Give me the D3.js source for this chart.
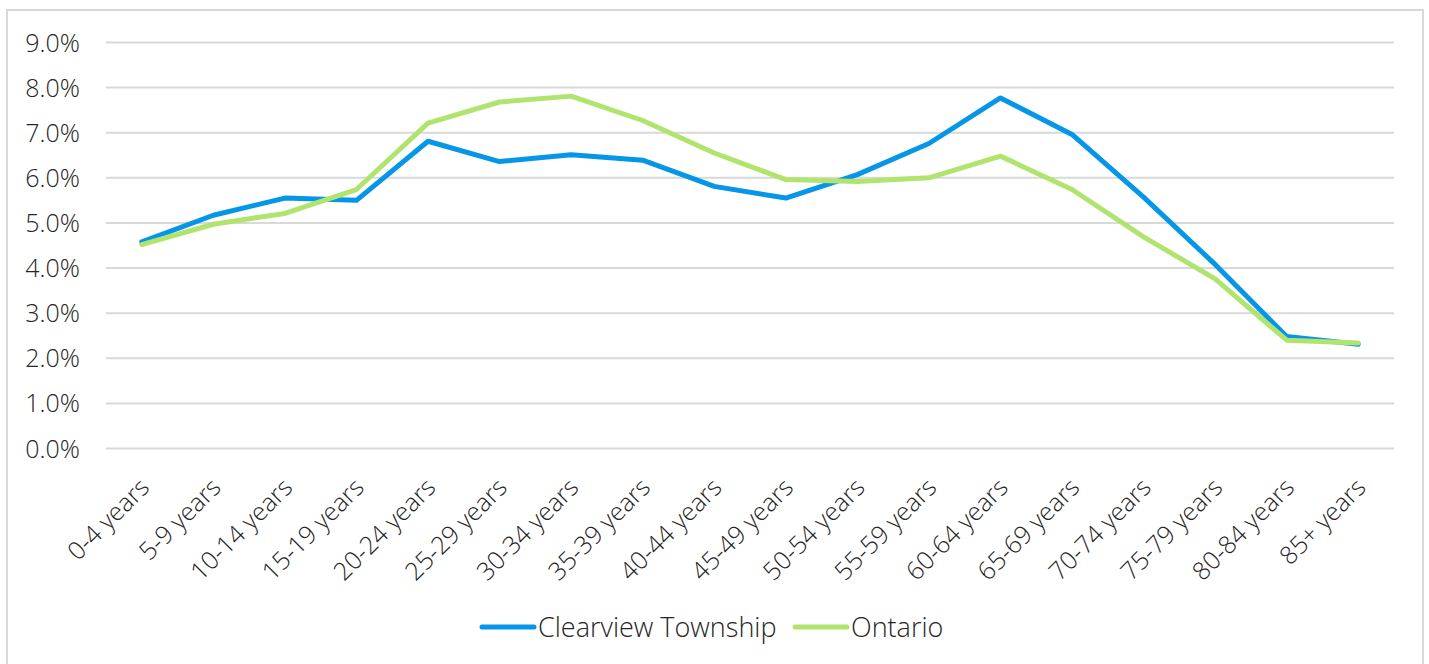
<!DOCTYPE html>
<html>
<head>
<meta charset="utf-8">
<script src="https://cdn.jsdelivr.net/npm/d3@7"></script>
<style>
    body { margin: 0; background: #fff; }
    svg text { font-family: "Open Sans", "Noto Sans", sans-serif; font-weight: 300; fill: #262626; }
</style>
</head>
<body>
<div id="chart"></div>
<script>
const ageGroups = ["0-4 years", "5-9 years", "10-14 years", "15-19 years", "20-24 years", "25-29 years",
    "30-34 years", "35-39 years", "40-44 years", "45-49 years", "50-54 years", "55-59 years",
    "60-64 years", "65-69 years", "70-74 years", "75-79 years", "80-84 years", "85+ years"];

const clearview = [4.57, 5.16, 5.54, 5.49, 6.80, 6.35, 6.50, 6.38, 5.80, 5.54, 6.06, 6.75,
    7.76, 6.95, 5.56, 4.07, 2.47, 2.30];

const ontario = [4.51, 4.96, 5.20, 5.73, 7.20, 7.67, 7.80, 7.26, 6.54, 5.95, 5.91, 5.99,
    6.47, 5.73, 4.68, 3.75, 2.39, 2.33];

const yTicks = [0, 1, 2, 3, 4, 5, 6, 7, 8, 9];

const seriesNames = ["Clearview Township", "Ontario"];
const seriesColors = ["#0596e8", "#b1e46f"];

const W = 1429, H = 664;
const margin = {top: 42, right: 35, bottom: 216, left: 106},
    width = W - margin.left - margin.right,
    height = H - margin.top - margin.bottom;

const svg = d3.select("#chart").append("svg")
    .attr("width", W)
    .attr("height", H);

// outer frame
svg.append("rect")
    .attr("x", 7).attr("y", 10)
    .attr("width", 1416).attr("height", 670)
    .attr("fill", "none")
    .attr("stroke", "#d9d9d9")
    .attr("stroke-width", 2);

const g = svg.append("g")
    .attr("transform", "translate(" + margin.left + "," + margin.top + ")");

const x = d3.scaleBand()
    .domain(ageGroups)
    .range([0, width]);

const y = d3.scaleLinear()
    .domain([0, 9])
    .range([height, 0]);

// gridlines + y labels
const yAxis = d3.axisLeft(y)
    .tickValues(yTicks)
    .tickSize(-width)
    .tickPadding(26)
    .tickFormat(d => d.toFixed(1) + "%");

const yg = g.append("g").call(yAxis);
yg.select(".domain").remove();
yg.selectAll(".tick line").attr("stroke", "#d9d9d9").attr("stroke-width", 2);
yg.selectAll(".tick text")
    .attr("font-size", 25)
    .attr("dy", "0.36em");

// x labels
const xg = g.append("g")
    .attr("transform", "translate(0," + height + ")")
    .call(d3.axisBottom(x).tickSize(0));
xg.select(".domain").remove();
xg.selectAll(".tick text")
    .attr("font-size", 25)
    .attr("text-anchor", "end")
    .attr("dy", 0)
    .attr("y", 0)
    .attr("transform", "translate(9,41) rotate(-45)");

// lines
const line = d3.line()
    .x((d, i) => x(ageGroups[i]) + x.bandwidth() / 2)
    .y(d => y(d))
    .curve(d3.curveLinear);

[clearview, ontario].forEach((vals, i) => {
    g.append("path")
        .datum(vals)
        .attr("fill", "none")
        .attr("stroke", seriesColors[i])
        .attr("stroke-width", 5)
        .attr("stroke-linejoin", "round")
        .attr("stroke-linecap", "round")
        .attr("d", line);
});

// legend
const legendX = [482, 795];
const legend = svg.append("g").attr("transform", "translate(0,627)");
seriesNames.forEach((name, i) => {
    const lg = legend.append("g").attr("transform", "translate(" + legendX[i] + ",0)");
    lg.append("line")
        .attr("x1", 0).attr("x2", 52)
        .attr("y1", 0).attr("y2", 0)
        .attr("stroke", seriesColors[i])
        .attr("stroke-width", 5)
        .attr("stroke-linecap", "round");
    lg.append("text")
        .attr("x", 56)
        .attr("dy", "0.36em")
        .attr("font-size", 27)
        .text(name);
});
</script>
</body>
</html>
